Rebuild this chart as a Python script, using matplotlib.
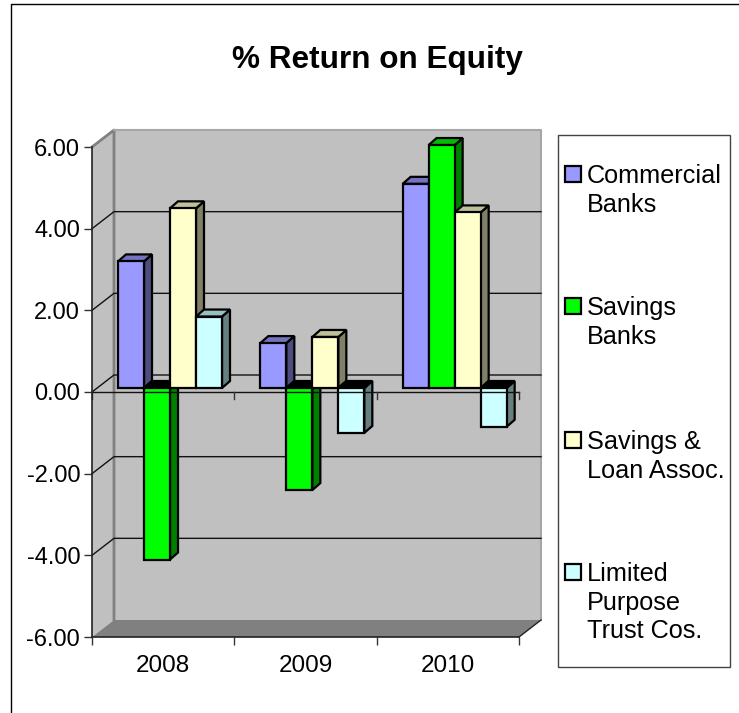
import matplotlib
matplotlib.use("Agg")
import matplotlib.pyplot as plt
from matplotlib.patches import Polygon, Rectangle

plt.rcParams['font.family'] = ['Liberation Sans', 'DejaVu Sans']

years = ['2008', '2009', '2010']
commercial = [3.1, 1.1, 5.0]
savings = [-4.2, -2.5, 5.95]
savings_loan = [4.4, 1.25, 4.3]
limited = [1.75, -1.1, -0.95]
yticks = [-6, -4, -2, 0, 2, 4, 6]
legend_labels = ['Commercial\nBanks', 'Savings\nBanks', 'Savings &\nLoan Assoc.',
                 'Limited\nPurpose\nTrust Cos.']
legend_y = [164, 296, 430, 562]

front = ['#9999ff', '#00ff00', '#ffffcc', '#ccffff']
side = ['#4d4d80', '#008000', '#808066', '#668080']
top = ['#7373bf', '#00bf00', '#bfbf99', '#99bfbf']

W, H = 739, 713
AX_L, AX_R, AX_T, AX_B = 92, 519, 147, 637
fig = plt.figure(figsize=(W / 100, H / 100), dpi=100, facecolor='white')
ax = fig.add_axes([AX_L / W, 1 - AX_B / H, (AX_R - AX_L) / W, (AX_B - AX_T) / H])
ax.set_xlim(0, 3)
ax.set_ylim(-6, 6)
ax.patch.set_alpha(0)

# pixel sizes of one data unit, used for the fake 3d depth
ux = (AX_R - AX_L) / 3.0
uy = (AX_B - AX_T) / 12.0
wall_dx, wall_dy = 22 / ux, 17 / uy
bar_dx, bar_dy = 8 / ux, 7 / uy
plane_dx, plane_dy = 4 / ux, 4 / uy
bar_w = 26 / ux


def poly(pts, fc, ec='none', lw=0, z=1):
    ax.add_patch(Polygon(pts, closed=True, facecolor=fc, edgecolor=ec, linewidth=lw,
                         zorder=z, clip_on=False, joinstyle='miter'))


# walls and floor
poly([(0, -6), (0, 6), (wall_dx, 6 + wall_dy), (wall_dx, -6 + wall_dy)], '#c0c0c0')
poly([(wall_dx, -6 + wall_dy), (wall_dx, 6 + wall_dy), (3 + wall_dx, 6 + wall_dy),
      (3 + wall_dx, -6 + wall_dy)], '#c0c0c0')
poly([(0, -6), (3, -6), (3 + wall_dx, -6 + wall_dy), (wall_dx, -6 + wall_dy)], '#808080')
ax.plot([0, wall_dx, wall_dx], [6, 6 + wall_dy, -6 + wall_dy], color='#808080', lw=2,
        zorder=2, clip_on=False)
ax.plot([wall_dx, 3 + wall_dx, 3 + wall_dx], [6 + wall_dy, 6 + wall_dy, -6 + wall_dy],
        color='#a6a6a6', lw=1.5, zorder=2, clip_on=False)

for v in yticks:
    if v in (-6, 6):
        continue
    ax.plot([0, wall_dx, 3 + wall_dx], [v, v + wall_dy, v + wall_dy], color='#111111',
            lw=1, zorder=3, clip_on=False)
ax.plot([3, 3 + wall_dx], [-6, -6 + wall_dy], color='#222222', lw=1, zorder=3, clip_on=False)

# bars
series = [commercial, savings, savings_loan, limited]
for i in range(len(years)):
    for s, vals in enumerate(series):
        v = vals[i]
        x0 = i + bar_w * (1 + s) - 4 / ux + plane_dx
        x1 = x0 + bar_w
        y0 = plane_dy
        y1 = v + plane_dy
        hi = max(y0, y1)
        lo = min(y0, y1)
        top_col = top[s] if v > 0 else '#000000'
        poly([(x1, lo), (x1 + bar_dx, lo + bar_dy), (x1 + bar_dx, hi + bar_dy), (x1, hi)],
             side[s], 'black', 1.6, 5)
        poly([(x0, hi), (x0 + bar_dx, hi + bar_dy), (x1 + bar_dx, hi + bar_dy), (x1, hi)],
             top_col, 'black', 1.6, 5)
        poly([(x0, lo), (x0, hi), (x1, hi), (x1, lo)], front[s], 'black', 1.6, 5)

# zero line with its ticks, this one runs over the bars
ax.plot([0, 3], [0, 0], color='#111111', lw=1, zorder=6, clip_on=False)
for t in [0, 1, 2, 3]:
    ax.plot([t, t], [0, -7 / uy], color='#333333', lw=1, zorder=6, clip_on=False)

for name in ['top', 'right']:
    ax.spines[name].set_visible(False)
for name in ['left', 'bottom']:
    ax.spines[name].set_color('#222222')
    ax.spines[name].set_linewidth(1.2)
    ax.spines[name].set_zorder(7)

ax.set_yticks(yticks)
ax.set_yticklabels(['%.2f' % v for v in yticks], fontsize=17)
ax.set_xticks([0, 1, 2, 3])
ax.set_xticklabels([])
ax.set_xticks([0.5, 1.5, 2.5], minor=True)
ax.set_xticklabels(years, minor=True, fontsize=17.5)
ax.tick_params(axis='both', which='major', length=5.5, width=1, color='#333333', pad=3)
ax.tick_params(axis='x', which='minor', length=0, pad=13)


def fx(px):
    return px / W


def fy(py):
    return 1 - py / H


# chart frame
fig.add_artist(plt.Line2D([fx(11), fx(11), fx(739)], [fy(713), fy(4), fy(4)], color='black', lw=1))

fig.text(fx(377), fy(60), '% Return on Equity', fontsize=22.7, fontweight='bold',
         ha='center', va='center')

# legend box
fig.add_artist(Rectangle((fx(558), fy(667)), (730 - 558) / W, (667 - 135) / H,
                         transform=fig.transFigure, facecolor='white', edgecolor='#444444',
                         linewidth=1))
for s, label in enumerate(legend_labels):
    fig.add_artist(Rectangle((fx(565), fy(legend_y[s] + 18)), 16 / W, 16 / H,
                             transform=fig.transFigure, facecolor=front[s],
                             edgecolor='black', linewidth=1.6))
    fig.text(fx(587), fy(legend_y[s]), label, fontsize=18.2, ha='left', va='top',
             linespacing=1.24)

fig.savefig('out.png', dpi=100)
